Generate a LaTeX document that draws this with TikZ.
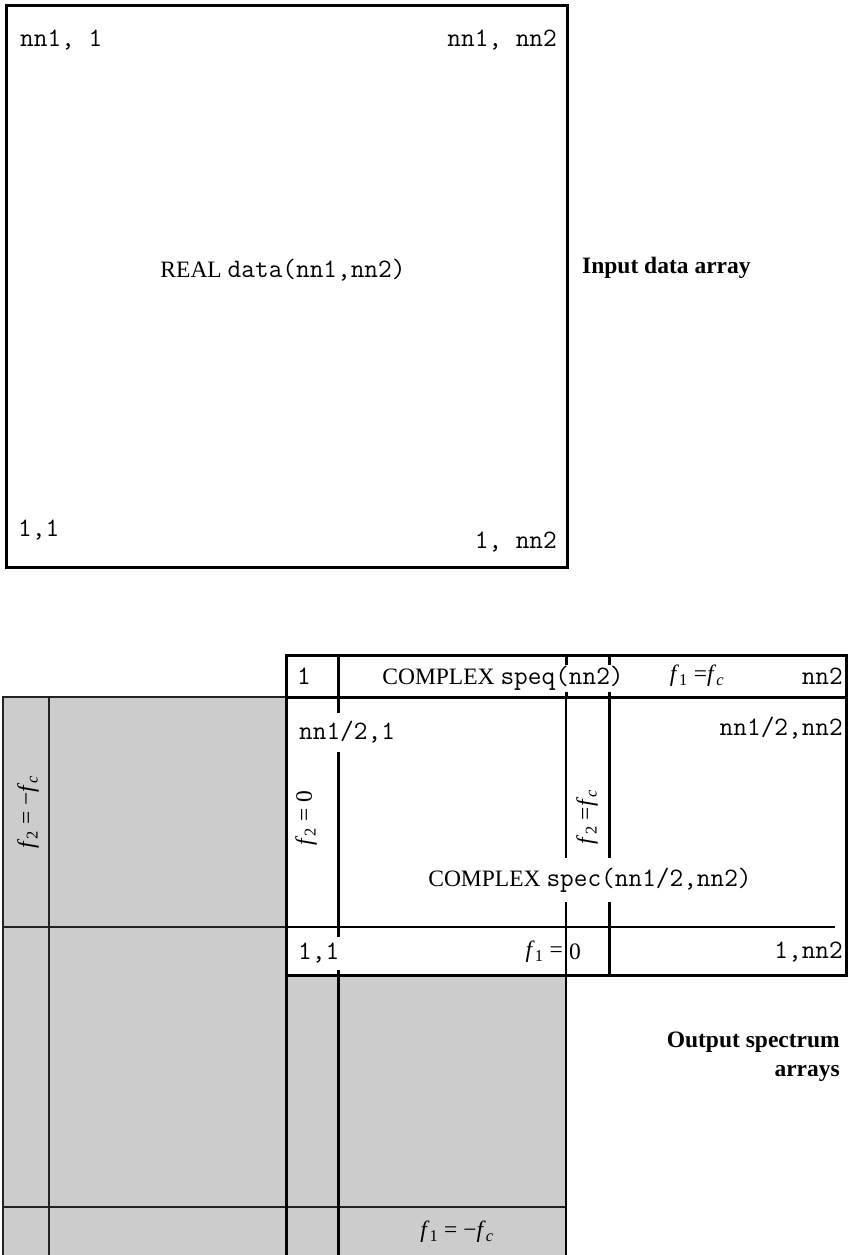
\documentclass[tikz,border=0pt]{standalone}
\usepackage{fontspec}
\setmainfont{Liberation Serif}
\setmonofont{Latin Modern Mono}[Scale=1.13]
\newcommand\fsz{\fontsize{23.5}{29}\selectfont}
\newcommand\fv[1]{\textit{f}\textsubscript{#1}}
\definecolor{greyfill}{HTML}{CCCCCC}
\definecolor{greyline}{HTML}{222222}
\tikzset{
  txt/.style={inner sep=0pt, font=\fsz},
  wtxt/.style={fill=white, inner xsep=1pt, inner ysep=0pt, font=\fsz},
  bold txt/.style={inner sep=0pt, font=\fsz\bfseries},
  thickln/.style={line width=3pt},
  thinln/.style={line width=1.5pt},
  greyln/.style={line width=1.5pt, draw=greyline},
}
\begin{document}
\begin{tikzpicture}[x=1pt,y=-1pt]
\useasboundingbox (0,0) rectangle (849,1255);

% ---------- input data array ----------
\draw[thickln] (6,6) rectangle (567,567);
\node[txt, anchor=west] (tl) at (20,40) {\ttfamily nn1, 1};
\node[txt, anchor=east] (tr) at (557,40) {\ttfamily nn1, nn2};
\node[txt] (real) at (283,270) {REAL \texttt{data(nn1,nn2)}};
\node[txt, anchor=west] (bl) at (18,530) {\ttfamily 1,1};
\node[txt, anchor=east] (br) at (557,542) {\ttfamily 1, nn2};
\node[bold txt, anchor=west] (inlbl) at (582,268) {Input data array};

% ---------- grey areas ----------
\fill[greyfill] (3,697) rectangle (286,1255);
\fill[greyfill] (286,975) rectangle (566,1255);
\draw[greyln] (3,1255) -- (3,697) -- (286,697);
\draw[greyln] (49,697) -- (49,1255);
\draw[greyln] (3,927) -- (286,927);
\draw[greyln] (3,1207) -- (566,1207);

% ---------- spectrum arrays ----------
\draw[thickln] (286,655) rectangle (846,697);
\draw[thickln] (846,697) -- (846,975) -- (286,975);
\draw[thickln] (286,655) -- (286,1255);
\draw[thickln] (338,655) -- (338,1255);
\draw[thickln] (609,655) -- (609,975);
\draw[thickln] (566,655) -- (566,697);
\draw[thinln] (566,697) -- (566,1255);
\draw[thinln] (286,927) -- (835,927);

% speq row
\node[txt] (one) at (304,676) {\ttfamily 1};
\node[wtxt, minimum height=27pt] (speq) at (503,678) {COMPLEX \texttt{speq(nn2)}};
\node[txt] (f1fc) at (697,676) {\fv{1} =\fv{\textit{c}}};
\node[txt, anchor=east] (nn2) at (843,676) {\ttfamily nn2};

% spec region
\node[wtxt, anchor=west, minimum height=39pt] (s11top) at (298,732) {\ttfamily nn1/2,1};
\node[txt, anchor=east] (s1n) at (843,728) {\ttfamily nn1/2,nn2};
\node[wtxt, minimum height=44pt] (spec) at (590,880) {COMPLEX \texttt{spec(nn1/2,nn2)}};
\node[wtxt, anchor=west, minimum height=33pt] (s11) at (297,953) {\ttfamily 1,1};
\node[txt, anchor=east] (f1eq) at (563,952) {\fv{1} =};
\node[txt, anchor=west] (zero) at (569,952) {0};
\node[txt, anchor=east] (s1nn2) at (843,952) {\ttfamily 1,nn2};

% rotated labels
\node[txt, rotate=90] (f20) at (306,818) {\fv{2} = 0};
\node[txt, rotate=90] (f2fc) at (587,817) {\fv{2} =\fv{\textit{c}}};
\node[txt, rotate=90] (f2mfc) at (28,812) {\fv{2} = −\fv{\textit{c}}};

% grey bottom label
\node[txt] (f1mfc) at (457,1232) {\fv{1} = −\fv{\textit{c}}};

% output label
\node[bold txt, anchor=east, align=right] (outlbl) at (840,1057) {Output spectrum\\arrays};
\end{tikzpicture}
\end{document}
